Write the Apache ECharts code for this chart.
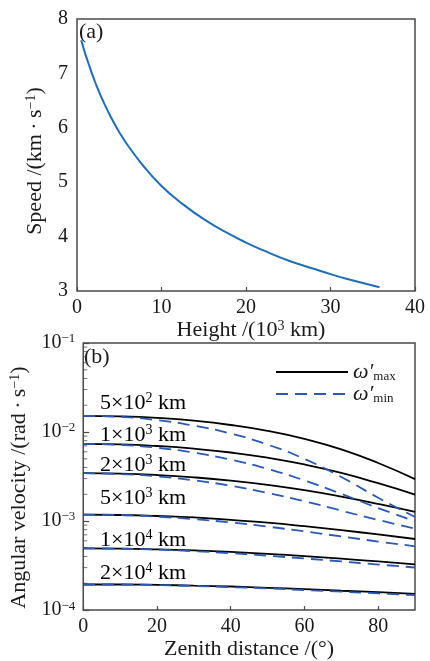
<!DOCTYPE html>
<html>
<head>
<meta charset="utf-8">
<script src="https://cdn.jsdelivr.net/npm/echarts@6/dist/echarts.min.js"></script>
<style>
  html, body { margin: 0; padding: 0; background: #fff; }
  #chart { width: 430px; height: 661px; }
</style>
</head>
<body>
<div id="chart"></div>
<script>
// (a) orbital speed vs height
const heights = [0.5, 1, 1.5, 2, 2.5, 3, 4, 5, 6, 8, 10, 12, 15, 18, 20, 22, 25, 28, 30, 32, 35.8];
const speeds = [7.61, 7.35, 7.12, 6.90, 6.70, 6.52, 6.20, 5.92, 5.68, 5.27, 4.93, 4.66, 4.32, 4.05, 3.89, 3.75, 3.56, 3.41, 3.31, 3.22, 3.07];

// (b) angular velocity vs zenith distance
const zenith = [0, 10, 20, 30, 40, 50, 60, 70, 80, 90];
const orbitNames = ['5×10² km', '1×10³ km', '2×10³ km', '5×10³ km', '1×10⁴ km', '2×10⁴ km'];
const wMax = [
  [0.0152, 0.0150, 0.0144, 0.0134, 0.0120, 0.0103, 0.00838, 0.00639, 0.00449, 0.00296],
  [0.00735, 0.00726, 0.00697, 0.00651, 0.00589, 0.00515, 0.00432, 0.00347, 0.00266, 0.00198],
  [0.00345, 0.00341, 0.00329, 0.00310, 0.00285, 0.00255, 0.00222, 0.00188, 0.00156, 0.00127],
  [0.00118, 0.00117, 0.00114, 0.00110, 0.00103, 0.000959, 0.000876, 0.000791, 0.000707, 0.000629],
  [0.000493, 0.000491, 0.000482, 0.000468, 0.000450, 0.000428, 0.000404, 0.000378, 0.000352, 0.000327],
  [0.000194, 0.000194, 0.000192, 0.000188, 0.000184, 0.000178, 0.000172, 0.000165, 0.000159, 0.000152]
];
const wMin = [
  [0.0152, 0.0148, 0.0136, 0.0118, 0.00960, 0.00723, 0.00499, 0.00313, 0.00183, 0.00111],
  [0.00735, 0.00718, 0.00666, 0.00587, 0.00490, 0.00386, 0.00286, 0.00202, 0.00140, 0.000998],
  [0.00345, 0.00338, 0.00318, 0.00287, 0.00249, 0.00207, 0.00167, 0.00131, 0.00103, 0.000824],
  [0.00118, 0.00117, 0.00112, 0.00105, 0.000964, 0.000866, 0.000766, 0.000672, 0.000589, 0.000521],
  [0.000493, 0.000489, 0.000478, 0.000459, 0.000436, 0.000408, 0.000380, 0.000352, 0.000325, 0.000301],
  [0.000194, 0.000194, 0.000191, 0.000187, 0.000181, 0.000175, 0.000168, 0.000161, 0.000154, 0.000147]
];
const minorTicks = [2e-4, 3e-4, 4e-4, 5e-4, 6e-4, 7e-4, 8e-4, 9e-4,
  2e-3, 3e-3, 4e-3, 5e-3, 6e-3, 7e-3, 8e-3, 9e-3,
  2e-2, 3e-2, 4e-2, 5e-2, 6e-2, 7e-2, 8e-2, 9e-2];

const FONT = '"Liberation Serif", "DejaVu Serif", serif';
const TXT = '#1a1a1a';
const FRAME = '#4a4a4a';
const BLUE_A = '#1f6fb6';
const BLUE_B = '#2a5ab8';

const rich = {
  n: { fontFamily: FONT, fontSize: 20, color: TXT },
  t: { fontFamily: FONT, fontSize: 22, color: TXT },
  sup: { fontFamily: FONT, fontSize: 13, color: TXT, verticalAlign: 'top', padding: [0, 0, 8, 0] },
  tsup: { fontFamily: FONT, fontSize: 14, color: TXT, verticalAlign: 'top', padding: [0, 0, 9, 0] },
  w: { fontFamily: FONT, fontSize: 22, fontStyle: 'italic', color: TXT },
  sub: { fontFamily: FONT, fontSize: 13, color: TXT, verticalAlign: 'bottom', padding: [8, 0, 0, 0] }
};

const chart = echarts.init(document.getElementById('chart'));

const series = [];
series.push({
  type: 'line', xAxisIndex: 0, yAxisIndex: 0,
  data: heights.map((h, i) => [h, speeds[i]]),
  showSymbol: false, symbol: 'none', smooth: true,
  lineStyle: { color: BLUE_A, width: 2 }, silent: true
});
wMax.forEach(arr => {
  series.push({
    name: 'max', type: 'line', xAxisIndex: 1, yAxisIndex: 1,
    data: zenith.map((z, i) => [z, arr[i]]),
    showSymbol: false, symbol: 'none', smooth: true,
    itemStyle: { color: '#000' },
    lineStyle: { color: '#000', width: 1.8 }
  });
});
wMin.forEach(arr => {
  series.push({
    name: 'min', type: 'line', xAxisIndex: 1, yAxisIndex: 1,
    data: zenith.map((z, i) => [z, arr[i]]),
    showSymbol: false, symbol: 'none', smooth: true,
    itemStyle: { color: BLUE_B },
    lineStyle: { color: BLUE_B, width: 1.8, type: [12, 7] }
  });
});
series.push({
  type: 'scatter', xAxisIndex: 1, yAxisIndex: 1,
  data: minorTicks.map(v => [0, v]),
  symbol: 'rect', symbolSize: [4, 1], symbolOffset: [2, 0],
  itemStyle: { color: FRAME }, silent: true
});

const labelY = [403, 435, 465, 498, 540, 573];
const supMap = { '²': '2', '³': '3', '⁴': '4' };

chart.setOption({
  animation: false,
  backgroundColor: '#fff',
  grid: [
    { left: 77, top: 19, width: 338, height: 272, show: true, borderColor: FRAME, borderWidth: 1.5 },
    { left: 81, top: 343, width: 334, height: 271, show: true, borderColor: FRAME, borderWidth: 1.5 }
  ],
  xAxis: [
    {
      gridIndex: 0, type: 'value', min: 0, max: 40, interval: 10,
      axisLine: { show: false },
      axisTick: { show: true, inside: true, length: 4, lineStyle: { color: FRAME, width: 1.2 } },
      axisLabel: { fontFamily: FONT, fontSize: 20, color: TXT, margin: 7 },
      splitLine: { show: false },
      name: '{t|Height /(10}{tsup|3}{t| km)}', nameLocation: 'middle', nameGap: 23,
      nameTextStyle: { rich: rich, padding: [0, 0, 0, 10] }
    },
    {
      gridIndex: 1, type: 'value', min: 0, max: 90, interval: 20,
      axisLine: { show: false },
      axisTick: { show: true, inside: true, length: 4, lineStyle: { color: FRAME, width: 1.2 } },
      axisLabel: { fontFamily: FONT, fontSize: 20, color: TXT, margin: 7, showMaxLabel: false },
      splitLine: { show: false },
      name: '{t|Zenith distance /(°)}', nameLocation: 'middle', nameGap: 24,
      nameTextStyle: { rich: rich }
    }
  ],
  yAxis: [
    {
      gridIndex: 0, type: 'value', min: 3, max: 8, interval: 1,
      axisLine: { show: false },
      axisTick: { show: false },
      axisLabel: { fontFamily: FONT, fontSize: 20, color: TXT, margin: 9 },
      splitLine: { show: false },
      name: '{t|Speed /(km\u2009·\u2009s}{tsup|−1}{t|)}', nameLocation: 'middle', nameGap: 30, nameRotate: 90,
      nameTextStyle: { rich: rich, padding: [0, 12, 0, 0] }
    },
    {
      gridIndex: 1, type: 'log', logBase: 10, min: 1e-4, max: 1e-1,
      axisLine: { show: false },
      axisTick: { show: true, inside: true, length: 6, lineStyle: { color: FRAME, width: 1.2 } },
      axisLabel: {
        margin: 8,
        formatter: v => '{n|10}{sup|−' + Math.round(-Math.log10(v)) + '}',
        rich: rich
      },
      splitLine: { show: false },
      name: '{t|Angular velocity /(rad\u2009·\u2009s}{tsup|−1}{t|)}', nameLocation: 'middle', nameGap: 50, nameRotate: 90,
      nameTextStyle: { rich: rich, padding: [0, 22, 0, 0] }
    }
  ],
  legend: {
    data: ['max', 'min'],
    orient: 'vertical', left: 270, top: 356,
    itemWidth: 72, itemHeight: 14, itemGap: 0,
    itemStyle: { opacity: 0 },
    formatter: name => '{w|ω′}{sub|' + name + '}',
    textStyle: { rich: rich },
    selectedMode: false
  },
  graphic: [
    { type: 'text', left: 79, top: 21, style: { text: '(a)', font: '22px ' + FONT, fill: TXT } },
    { type: 'text', left: 84, top: 346, style: { text: '(b)', font: '22px ' + FONT, fill: TXT } }
  ].concat(orbitNames.map((s, i) => {
    const parts = s.split(' ')[0];
    const base = parts.slice(0, -1);
    const sup = supMap[parts.slice(-1)];
    return {
      type: 'text', x: 100, y: labelY[i],
      style: {
        text: '{t|' + base + '}{tsup|' + sup + '}{t| km}',
        rich: rich, verticalAlign: 'middle'
      }
    };
  })),
  series: series
});
</script>
</body>
</html>
